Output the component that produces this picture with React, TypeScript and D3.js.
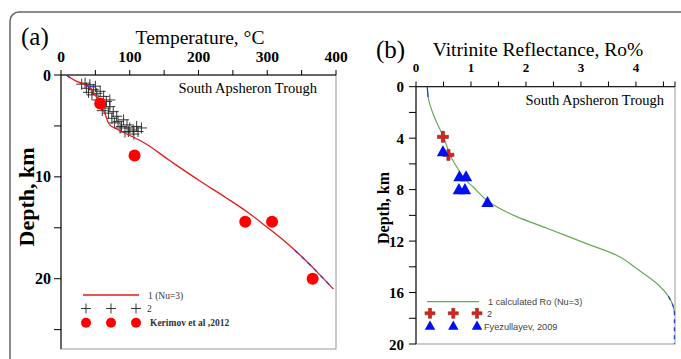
import React from 'react';
import * as d3 from 'd3';

// panel (a): temperature
const tempTicks = [0, 100, 200, 300, 400];
const depthTicksA = [0, 10, 20];
const calcTemp: [number, number][] = [
  [8, 0], [22, 0.6], [37, 1.0], [48, 1.8], [57, 2.8], [64, 3.8], [71, 4.9], [90, 5.6],
  [117, 6.5], [158, 8.4], [202, 10.4], [240, 12.05], [270, 13.4], [299, 14.9],
  [325, 16.3], [348, 17.7], [372, 19.3], [396, 21.0],
];
const calcTempBlue: [number, number][] = [[340, 17.2], [348, 17.7], [372, 19.3], [396, 21.0]];
const wellTemp: [number, number][] = [
  [35, 0.8], [42, 0.95], [37, 1.3], [47, 1.45], [45, 1.95], [52, 1.8], [54, 2.45], [62, 2.1],
  [66, 2.6], [59, 2.9], [64, 3.25], [71, 3.1], [76, 3.6], [69, 3.75], [74, 4.25], [81, 4.05],
  [83, 4.55], [78, 4.7], [91, 4.4], [88, 5.05], [96, 4.9], [100, 5.2], [105, 5.4], [110, 5.05],
  [112, 5.55], [98, 5.55], [86, 5.2], [57, 1.6], [50, 1.1], [71, 2.45], [117, 5.2],
  [30, 0.9], [40, 1.7], [60, 3.5], [93, 5.6], [106, 5.8],
];
const kerimov: [number, number][] = [[57, 2.8], [107, 7.9], [268, 14.4], [307, 14.4], [366, 20.0]];

// panel (b): vitrinite reflectance
const roTicks = [0, 1, 2, 3, 4];
const depthTicksB = [0, 4, 8, 12, 16, 20];
const calcRo: [number, number][] = [
  [0.205, 0], [0.22, 0.8], [0.31, 2.1], [0.4, 3.0], [0.5, 3.9], [0.62, 5.3], [0.75, 6.3],
  [0.89, 7.2], [1.04, 7.8], [1.31, 8.9], [1.83, 10.1], [2.38, 11.0], [3.1, 12.2],
  [3.65, 13.1], [4.0, 14.1], [4.38, 15.3], [4.59, 16.3], [4.68, 17.1], [4.7, 17.6],
];
const calcRoBlue: [number, number][] = [[4.59, 16.3], [4.68, 17.1], [4.7, 17.6], [4.7, 20]];
const wellRo: [number, number][] = [[0.49, 3.9], [0.59, 5.3]];
const fyez: [number, number][] = [[0.49, 5.05], [0.79, 7.0], [0.91, 7.0], [0.78, 8.0], [0.89, 8.0], [1.3, 9.0]];

const serif = '"Liberation Serif", "Times New Roman", serif';
const sans = '"Liberation Sans", Arial, sans-serif';

const plus = (s: number) => `M${-s},0H${s}M0,${-s}V${s}`;
const fatPlus = (s: number, w: number) =>
  `M${-w},${-s}H${w}V${-w}H${s}V${w}H${w}V${s}H${-w}V${w}H${-s}V${-w}H${-w}Z`;
const tri = (s: number) => `M0,${-s}L${s * 0.95},${s * 0.7}H${-s * 0.95}Z`;

export default function App() {
  // scales (a)
  const xA = d3.scaleLinear().domain([0, 400]).range([61, 336]);
  const yA = d3.scaleLinear().domain([0, 26.9]).range([75, 349]);
  // scales (b)
  const xB = d3.scaleLinear().domain([0, 4.71]).range([416, 675]);
  const yB = d3.scaleLinear().domain([0, 20]).range([86.7, 344]);

  const lineA = d3.line<[number, number]>().x(d => xA(d[0])).y(d => yA(d[1])).curve(d3.curveMonotoneY);
  const lineB = d3.line<[number, number]>().x(d => xB(d[0])).y(d => yB(d[1])).curve(d3.curveMonotoneY);

  const minorA = d3.range(0, 401, 50);
  const minorAy = d3.range(0, 26, 5);
  const minorB = d3.range(0, 4.71, 0.5);
  const minorBy = d3.range(0, 21, 2);

  return (
    <svg width={681} height={359} style={{ position: 'absolute', left: 0, top: 0, background: '#fff' }}>
      <defs>
        <clipPath id="clipA"><rect x={61} y={75} width={275} height={274} /></clipPath>
        <clipPath id="clipB"><rect x={416} y={86.7} width={262} height={258} /></clipPath>
      </defs>
      <rect x={10} y={12} width={720} height={400} rx={9} fill="none" stroke="#666" strokeWidth={1.5} />

      {/* ---------- panel (a) ---------- */}
      <text x={21} y={45} fontFamily={serif} fontSize={25}>(a)</text>
      <text x={200} y={44} fontFamily={serif} fontSize={19.5} textAnchor="middle">Temperature, °C</text>
      <rect x={61} y={75} width={275} height={274} fill="none" stroke="#999" strokeWidth={1} />
      <line x1={61} x2={336} y1={75} y2={75} stroke="#000" />
      <line x1={61} x2={61} y1={75} y2={349} stroke="#000" />
      {minorA.map(t => <line key={t} x1={xA(t)} x2={xA(t)} y1={75} y2={70} stroke="#000" />)}
      {minorAy.map(t => <line key={t} x1={61} x2={54} y1={yA(t)} y2={yA(t)} stroke="#000" />)}
      {tempTicks.map(t => (
        <text key={t} x={xA(t)} y={62} fontFamily={serif} fontSize={15.5} fontWeight="bold" textAnchor="middle">{t}</text>
      ))}
      {depthTicksA.map(t => (
        <text key={t} x={51} y={yA(t) + 5.5} fontFamily={serif} fontSize={16} fontWeight="bold" textAnchor="end">{t}</text>
      ))}
      <text transform="translate(34,197) rotate(-90)" fontFamily={serif} fontSize={22} fontWeight="bold" textAnchor="middle">Depth, km</text>
      <text x={317} y={93} fontFamily={serif} fontSize={14.5} textAnchor="end">South Apsheron Trough</text>

      <g clipPath="url(#clipA)">
        {wellTemp.map((d, i) => (
          <path key={i} d={plus(5.5)} transform={`translate(${xA(d[0])},${yA(d[1])})`} stroke="#222" strokeWidth={0.9} fill="none" />
        ))}
        <path d={lineA(calcTemp) ?? ''} fill="none" stroke="#e31a1c" strokeWidth={1.3} />
        <path d={lineA(calcTempBlue) ?? ''} fill="none" stroke="#2b3bd6" strokeWidth={1.3} strokeDasharray="4,5" />
        <path d={lineA([[35, 1.0], [49, 1.2]]) ?? ''} fill="none" stroke="#2b3bd6" strokeWidth={1.2} />
        <path d={lineA([[8, 0], [13, 0.3]]) ?? ''} fill="none" stroke="#2b3bd6" strokeWidth={1.2} />
        {kerimov.map((d, i) => <circle key={i} cx={xA(d[0])} cy={yA(d[1])} r={6} fill="#ff0000" />)}
      </g>

      {/* legend (a) */}
      <line x1={83} x2={139} y1={295} y2={295} stroke="#e31a1c" strokeWidth={1.3} />
      <text x={148} y={298.5} fontFamily={serif} fontSize={9.5} fill="#333">1  (Nu=3)</text>
      {[86, 111, 136].map(x => (
        <path key={x} d={plus(5)} transform={`translate(${x},308.5)`} stroke="#222" strokeWidth={0.9} fill="none" />
      ))}
      <text x={147} y={312} fontFamily={serif} fontSize={9.5} fill="#333">2</text>
      {[86, 111, 136].map(x => <circle key={x} cx={x} cy={322.7} r={5} fill="#ff0000" />)}
      <text x={150} y={326} fontFamily={serif} fontSize={9.5} fontWeight="bold" fill="#333">Kerimov et al ,2012</text>

      {/* ---------- panel (b) ---------- */}
      <text x={376} y={58} fontFamily={serif} fontSize={25}>(b)</text>
      <text x={538} y={56} fontFamily={serif} fontSize={19.5} textAnchor="middle">Vitrinite Reflectance, Ro%</text>
      <rect x={416} y={86.7} width={259} height={257.3} fill="none" stroke="#999" strokeWidth={1} />
      <line x1={416} x2={675} y1={86.7} y2={86.7} stroke="#000" />
      <line x1={416} x2={416} y1={86.7} y2={344} stroke="#000" />
      {minorB.map(t => <line key={t} x1={xB(t)} x2={xB(t)} y1={86.7} y2={81.5} stroke="#000" />)}
      <line x1={675} x2={675} y1={86.7} y2={81.5} stroke="#000" />
      {minorBy.map(t => <line key={t} x1={416} x2={409} y1={yB(t)} y2={yB(t)} stroke="#000" />)}
      {roTicks.map(t => (
        <text key={t} x={xB(t)} y={72} fontFamily={serif} fontSize={13} fontWeight="bold" textAnchor="middle">{t}</text>
      ))}
      {depthTicksB.map(t => (
        <text key={t} x={404} y={yB(t) + 5.5} fontFamily={serif} fontSize={15} fontWeight="bold" textAnchor="end">{t}</text>
      ))}
      <text transform="translate(389,208) rotate(-90)" fontFamily={serif} fontSize={16} fontWeight="bold" textAnchor="middle">Depth, km</text>
      <text x={664} y={105} fontFamily={serif} fontSize={14.5} textAnchor="end">South Apsheron Trough</text>

      <g clipPath="url(#clipB)">
        <path d={lineB(calcRo) ?? ''} fill="none" stroke="#6aa857" strokeWidth={1.2} />
        <path d={lineB(calcRoBlue) ?? ''} fill="none" stroke="#2b3bd6" strokeWidth={1.3} strokeDasharray="4,4" />
        <path d={lineB([[0.205, 0], [0.22, 0.8]]) ?? ''} fill="none" stroke="#2b3bd6" strokeWidth={1.2} />
        {wellRo.map((d, i) => (
          <path key={i} d={fatPlus(5.5, 1.6)} transform={`translate(${xB(d[0])},${yB(d[1])})`} fill="#e0201c" stroke="#7a2a1a" strokeWidth={0.6} />
        ))}
        {fyez.map((d, i) => (
          <path key={i} d={tri(6.5)} transform={`translate(${xB(d[0])},${yB(d[1])})`} fill="#0010f0" />
        ))}
      </g>

      {/* legend (b) */}
      <line x1={427} x2={479} y1={301.7} y2={301.7} stroke="#6aa857" strokeWidth={1.2} />
      <text x={488} y={305} fontFamily={sans} fontSize={9.2} fill="#444">1 calculated Ro (Nu=3)</text>
      {[430, 453.3, 477].map(x => (
        <path key={x} d={fatPlus(5, 1.5)} transform={`translate(${x},313.3)`} fill="#e0201c" stroke="#7a2a1a" strokeWidth={0.6} />
      ))}
      <text x={487} y={316.5} fontFamily={sans} fontSize={9.2} fill="#444">2</text>
      {[430, 453.3, 477].map(x => (
        <path key={x} d={tri(5.5)} transform={`translate(${x},326)`} fill="#0010f0" />
      ))}
      <text x={484} y={329.5} fontFamily={sans} fontSize={9.2} fill="#444">Fyezullayev, 2009</text>
    </svg>
  );
}
